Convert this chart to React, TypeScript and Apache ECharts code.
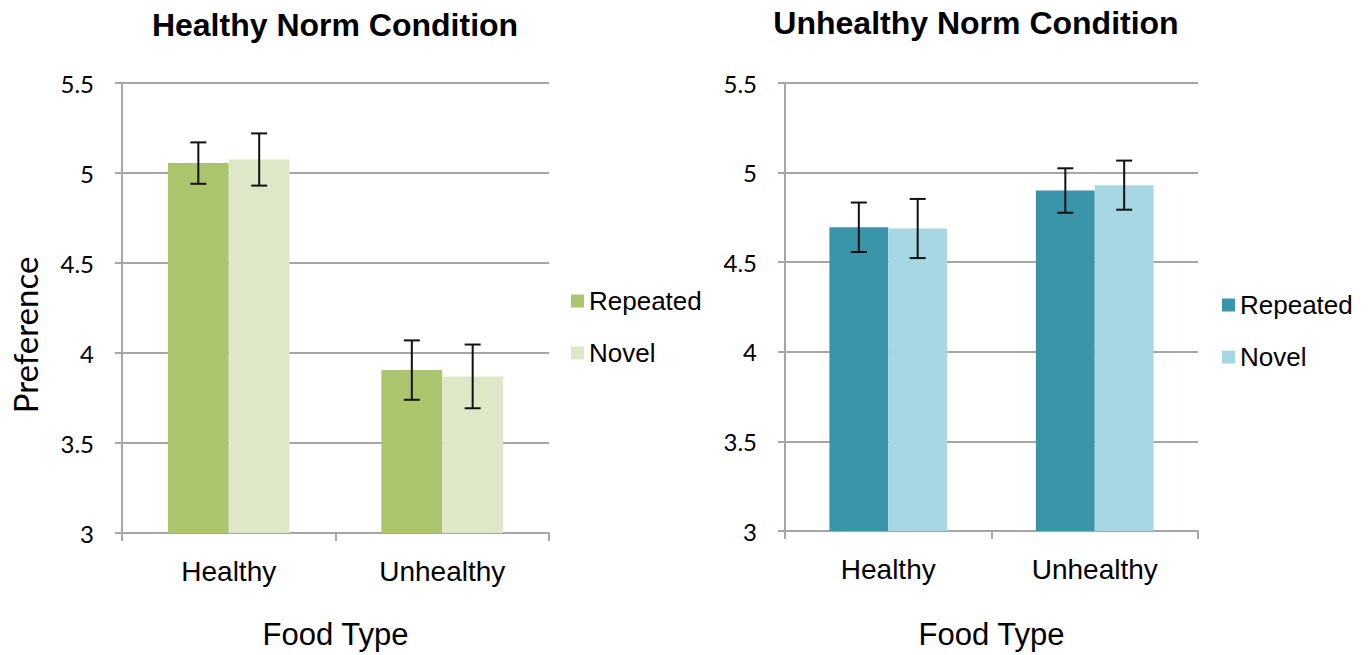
import React, { useEffect, useRef } from "react";
import * as echarts from "echarts";

// Food type categories on the x axis of both panels
const categories = ["Healthy", "Unhealthy"];

// Healthy norm condition: mean preference and error (±)
const healthyNormRepeated = [5.055, 3.905];
const healthyNormRepeatedErr = [0.115, 0.165];
const healthyNormNovel = [5.075, 3.87];
const healthyNormNovelErr = [0.145, 0.177];

// Unhealthy norm condition: mean preference and error (±)
const unhealthyNormRepeated = [4.695, 4.9];
const unhealthyNormRepeatedErr = [0.138, 0.124];
const unhealthyNormNovel = [4.688, 4.93];
const unhealthyNormNovelErr = [0.165, 0.137];

const panelTitles = ["Healthy Norm Condition", "Unhealthy Norm Condition"];
const seriesNames = ["Repeated", "Novel"];
const yAxisTitle = "Preference";

const GREEN_DARK = "#AAC56C";
const GREEN_LIGHT = "#DFE7C9";
const BLUE_DARK = "#3B95AA";
const BLUE_LIGHT = "#A6D7E3";
const GRID_GRAY = "#A6A6A6";

const ARIAL = "'Liberation Sans', Arial, sans-serif";
const CALIBRI = "Lato, 'Open Sans', sans-serif";

const BAR_CATEGORY_GAP = 0.43;

function errorBars(axis: number, means: number[], errs: number[], side: number) {
  return {
    type: "custom",
    xAxisIndex: axis,
    yAxisIndex: axis,
    z: 10,
    silent: true,
    data: means.map((m, i) => [i, m - errs[i], m + errs[i]]),
    encode: { x: 0, y: [1, 2] },
    renderItem: (_params: any, api: any) => {
      const cat = api.value(0);
      const lo = api.coord([cat, api.value(1)]);
      const hi = api.coord([cat, api.value(2)]);
      const band = api.size([1, 0])[0];
      const barW = (band * (1 - BAR_CATEGORY_GAP)) / 2;
      const x = lo[0] + (side * barW) / 2;
      const cap = 8;
      const style = { stroke: "#111", lineWidth: 2 };
      return {
        type: "group",
        children: [
          { type: "line", shape: { x1: x, y1: hi[1], x2: x, y2: lo[1] }, style },
          { type: "line", shape: { x1: x - cap, y1: hi[1], x2: x + cap, y2: hi[1] }, style },
          { type: "line", shape: { x1: x - cap, y1: lo[1], x2: x + cap, y2: lo[1] }, style },
        ],
      };
    },
  };
}

function xAxisFor(gridIndex: number, nameGap: number) {
  return {
    type: "category",
    gridIndex,
    data: categories,
    name: "Food Type",
    nameLocation: "middle",
    nameGap,
    nameTextStyle: { fontFamily: ARIAL, fontSize: 31, color: "#000" },
    axisLine: { show: true, lineStyle: { color: GRID_GRAY, width: 2 } },
    axisTick: { show: true, length: 8, lineStyle: { color: GRID_GRAY, width: 2 } },
    axisLabel: { fontFamily: ARIAL, fontSize: 28, color: "#000", margin: 24 },
    splitLine: { show: false },
  };
}

function yAxisFor(gridIndex: number) {
  return {
    type: "value",
    gridIndex,
    min: 3,
    max: 5.5,
    interval: 0.5,
    axisLine: { show: true, lineStyle: { color: GRID_GRAY, width: 2 } },
    axisTick: { show: true, inside: false, length: 7, lineStyle: { color: GRID_GRAY, width: 2 } },
    axisLabel: { fontFamily: CALIBRI, fontSize: 24, color: "#000", margin: 28 },
    splitLine: { show: true, lineStyle: { color: GRID_GRAY, width: 2 } },
  };
}

function legendFor(left: number, top: number, dark: string, light: string) {
  return {
    orient: "vertical",
    left,
    top,
    padding: 0,
    itemWidth: 13,
    itemHeight: 13,
    itemGap: 24,
    icon: "rect",
    selectedMode: false,
    textStyle: { fontFamily: ARIAL, fontSize: 26, color: "#000", lineHeight: 28 },
    data: [
      { name: seriesNames[0], itemStyle: { color: dark } },
      { name: seriesNames[1], itemStyle: { color: light } },
    ],
  };
}

function barSeries(axis: number, name: string, values: number[], color: string) {
  return {
    type: "bar",
    name,
    xAxisIndex: axis,
    yAxisIndex: axis,
    data: values,
    barGap: "0%",
    barCategoryGap: `${BAR_CATEGORY_GAP * 100}%`,
    itemStyle: { color },
    silent: true,
  };
}

function titleText(text: string, x: number, y: number) {
  return {
    type: "text",
    x,
    y,
    style: {
      text,
      font: `bold 32px ${ARIAL}`,
      fill: "#000",
      align: "center",
      verticalAlign: "middle",
    },
  };
}

export default function App() {
  const ref = useRef<HTMLDivElement>(null);

  useEffect(() => {
    if (!ref.current) return;
    const chart = echarts.init(ref.current, undefined, { renderer: "svg" });
    chart.setOption({
      animation: false,
      backgroundColor: "#fff",
      grid: [
        { left: 122, top: 83, width: 427, height: 451 },
        { left: 785, top: 83, width: 413, height: 451 },
      ],
      xAxis: [xAxisFor(0, 86), xAxisFor(1, 88)],
      yAxis: [yAxisFor(0), yAxisFor(1)],
      legend: [
        legendFor(571, 287, GREEN_DARK, GREEN_LIGHT),
        legendFor(1222, 291, BLUE_DARK, BLUE_LIGHT),
      ],
      graphic: [
        titleText(panelTitles[0], 335, 25),
        titleText(panelTitles[1], 976, 23),
        {
          type: "text",
          x: 25,
          y: 335,
          rotation: Math.PI / 2,
          style: {
            text: yAxisTitle,
            font: `33px ${CALIBRI}`,
            fill: "#000",
            align: "center",
            verticalAlign: "middle",
          },
        },
      ],
      series: [
        barSeries(0, seriesNames[0], healthyNormRepeated, GREEN_DARK),
        barSeries(0, seriesNames[1], healthyNormNovel, GREEN_LIGHT),
        barSeries(1, seriesNames[0], unhealthyNormRepeated, BLUE_DARK),
        barSeries(1, seriesNames[1], unhealthyNormNovel, BLUE_LIGHT),
        errorBars(0, healthyNormRepeated, healthyNormRepeatedErr, -1),
        errorBars(0, healthyNormNovel, healthyNormNovelErr, 1),
        errorBars(1, unhealthyNormRepeated, unhealthyNormRepeatedErr, -1),
        errorBars(1, unhealthyNormNovel, unhealthyNormNovelErr, 1),
      ],
    });
    return () => chart.dispose();
  }, []);

  return (
    <div
      ref={ref}
      style={{ position: "absolute", left: 0, top: 0, width: 1371, height: 655, background: "#fff" }}
    />
  );
}
